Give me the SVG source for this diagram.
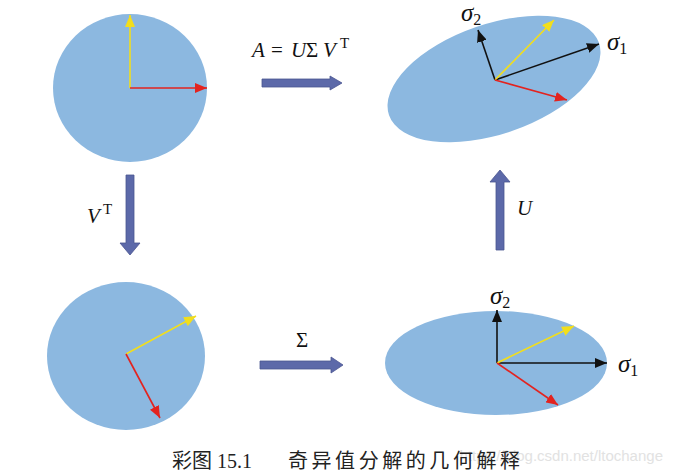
<svg xmlns="http://www.w3.org/2000/svg" width="675" height="475" viewBox="0 0 675 475">
<defs>
<style>
.disk{fill:#8cb8e0}
.vy{stroke:#f2de1c;stroke-width:1.6;fill:none}
.vr{stroke:#e3231f;stroke-width:1.6;fill:none}
.vk{stroke:#111;stroke-width:1.6;fill:none}
.big{fill:#5c69a9;stroke:#4a5590;stroke-width:0.8}
.lbl{font-family:"Liberation Serif","DejaVu Serif",serif;font-size:21px;fill:#111}
.sig{font-family:"Liberation Serif","DejaVu Serif",serif;font-size:25px;font-style:italic;fill:#111}
.sub{font-size:16px;font-style:normal}
.sup{font-size:15px;font-style:normal}
.it{font-style:italic}
.cap{font-family:"Liberation Serif","Noto Sans CJK SC",serif;font-size:20px;fill:#222}
.wm{font-family:"Liberation Sans",sans-serif;font-size:15px;fill:#e2e2e2}
</style>
<marker id="my" viewBox="0 0 12 10" refX="12" refY="5" markerWidth="12" markerHeight="10" markerUnits="userSpaceOnUse" orient="auto"><path d="M0,0 L12,5 L0,10 Z" fill="#f2de1c"/></marker>
<marker id="mr" viewBox="0 0 12 10" refX="12" refY="5" markerWidth="12" markerHeight="10" markerUnits="userSpaceOnUse" orient="auto"><path d="M0,0 L12,5 L0,10 Z" fill="#e3231f"/></marker>
<marker id="mk" viewBox="0 0 12 10" refX="12" refY="5" markerWidth="12" markerHeight="10" markerUnits="userSpaceOnUse" orient="auto"><path d="M0,0 L12,5 L0,10 Z" fill="#111"/></marker>
</defs>
<rect width="675" height="475" fill="#fff"/>

<g id="circle1">
<ellipse class="disk" cx="130" cy="88" rx="77" ry="74"/>
<line class="vy" x1="130" y1="88" x2="130" y2="15" marker-end="url(#my)"/>
<line class="vr" x1="130" y1="88" x2="207" y2="88" marker-end="url(#mr)"/>
</g>

<g id="circle2">
<ellipse class="disk" cx="126" cy="356" rx="79" ry="74"/>
<line class="vy" x1="126" y1="354" x2="196" y2="316" marker-end="url(#my)"/>
<line class="vr" x1="126" y1="354" x2="160" y2="418" marker-end="url(#mr)"/>
</g>

<g id="ellipse1">
<ellipse class="disk" cx="494" cy="79" rx="111" ry="55" transform="rotate(-19 494 79)"/>
<line class="vk" x1="495" y1="80" x2="599" y2="44" marker-end="url(#mk)"/>
<line class="vk" x1="495" y1="80" x2="478" y2="30" marker-end="url(#mk)"/>
<line class="vy" x1="495" y1="80" x2="554" y2="20" marker-end="url(#my)"/>
<line class="vr" x1="495" y1="80" x2="567" y2="100" marker-end="url(#mr)"/>
<text class="sig" x="461" y="21">σ<tspan class="sub" dy="4">2</tspan></text>
<text class="sig" x="607" y="50">σ<tspan class="sub" dy="4">1</tspan></text>
</g>

<g id="ellipse2">
<ellipse class="disk" cx="496" cy="363" rx="111" ry="52"/>
<line class="vk" x1="497" y1="363" x2="607" y2="363" marker-end="url(#mk)"/>
<line class="vk" x1="497" y1="363" x2="497" y2="310" marker-end="url(#mk)"/>
<line class="vy" x1="497" y1="363" x2="574" y2="326" marker-end="url(#my)"/>
<line class="vr" x1="497" y1="363" x2="558" y2="405" marker-end="url(#mr)"/>
<text class="sig" x="490" y="304">σ<tspan class="sub" dy="4">2</tspan></text>
<text class="sig" x="618" y="372">σ<tspan class="sub" dy="4">1</tspan></text>
</g>

<g id="connectors">
<g id="arrow-A">
<path class="big" d="M262,79 L330,79 L330,76 L342,83 L330,90 L330,87 L262,87 Z"/>
<text class="lbl" y="57"><tspan class="it" x="252">A</tspan><tspan x="271">=</tspan><tspan class="it" x="291">U</tspan><tspan x="306">Σ</tspan><tspan class="it" x="323">V</tspan><tspan class="sup" x="340" dy="-9">T</tspan></text>
</g>
<g id="arrow-VT">
<path class="big" d="M126,175 L134,175 L134,243 L140,243 L130,255 L120,243 L126,243 Z"/>
<text class="lbl" x="87" y="223"><tspan class="it">V</tspan><tspan class="sup" x="103" dy="-9">T</tspan></text>
</g>
<g id="arrow-U">
<path class="big" d="M496,250 L504,250 L504,182 L510,182 L500,170 L490,182 L496,182 Z"/>
<text class="lbl it" x="517" y="215">U</text>
</g>
<g id="arrow-S">
<path class="big" d="M260,361 L331,361 L331,357 L343,365 L331,373 L331,369 L260,369 Z"/>
<text class="lbl" x="296" y="347">Σ</text>
</g>
</g>

<text class="wm" x="663" y="461" text-anchor="end">https://blog.csdn.net/ltochange</text>
<text class="cap" x="172" y="468">彩图 15.1</text>
<text class="cap" x="288" y="468" textLength="232" lengthAdjust="spacing">奇异值分解的几何解释</text>
</svg>
